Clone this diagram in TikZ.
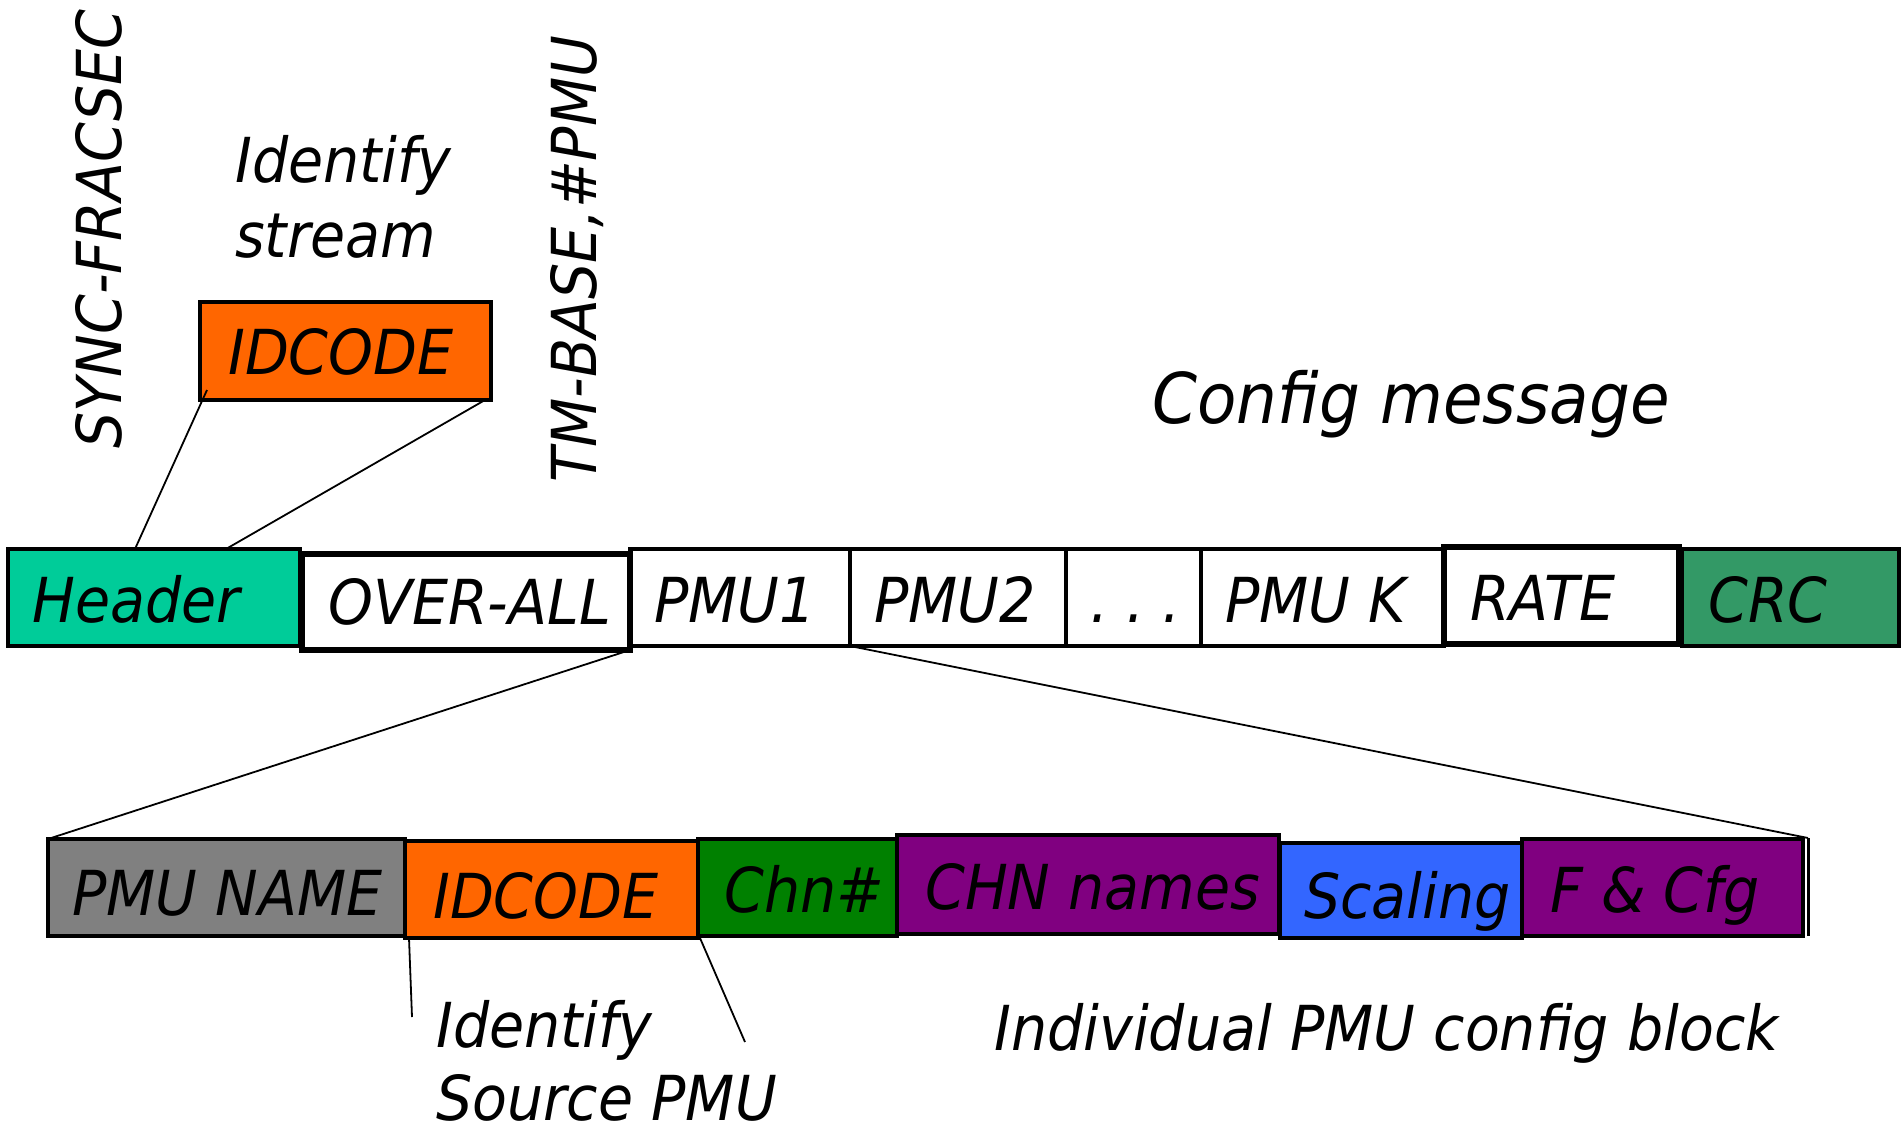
\documentclass[tikz,border=0pt]{standalone}
\usepackage{fontspec}
\setmainfont{DejaVu Sans}[FakeStretch=0.92]
\usetikzlibrary{calc}
\definecolor{hdrc}{HTML}{00CC99}
\definecolor{crcc}{HTML}{339966}
\definecolor{orng}{HTML}{FF6600}
\definecolor{gry}{HTML}{808080}
\definecolor{grn}{HTML}{008000}
\definecolor{purp}{HTML}{800080}
\definecolor{blu}{HTML}{3366FF}
\begin{document}
\begin{tikzpicture}[x=1pt,y=-1pt,
  box/.style={draw=black, line width=4pt, anchor=north west, inner sep=0pt, outer sep=0pt},
  thickbox/.style={box, line width=5.5pt},
  txt/.style={font=\fontsize{62}{75}\selectfont\itshape, inner sep=0pt, anchor=base west},
  conn/.style={line width=1.8pt}]
\useasboundingbox (0,0) rectangle (1901,1136);

% top bar
\node[box, fill=hdrc, minimum width=292pt, minimum height=97pt] (hdr) at (8,549) {};
\node[box, fill=white, minimum width=220pt, minimum height=97pt] (pmu1) at (630,549) {};
\node[box, fill=white, minimum width=216pt, minimum height=97pt] (pmu2) at (850,549) {};
\node[box, fill=white, minimum width=135pt, minimum height=97pt] (dots) at (1066,549) {};
\node[box, fill=white, minimum width=243pt, minimum height=97pt] (pmuk) at (1201,549) {};
\node[box, fill=crcc, minimum width=217pt, minimum height=97pt] (crc) at (1682,549) {};
\node[thickbox, fill=white, minimum width=328pt, minimum height=96pt] (over) at (302,554) {};
\node[thickbox, fill=white, minimum width=235pt, minimum height=97pt] (rate) at (1444,547) {};

\node[txt] (hdrt) at ($(hdr.south west)+(24,-24)$) {Header};
\node[txt] (overt) at ($(over.south west)+(26,-26)$) {OVER-ALL};
\node[txt] (pmu1t) at ($(pmu1.south west)+(24,-24)$) {PMU1};
\node[txt] (pmu2t) at ($(pmu2.south west)+(24,-24)$) {PMU2};
\node[txt] (dotst) at ($(dots.south west)+(24,-24)$) {.\ .\ .};
\node[txt] (pmukt) at ($(pmuk.south west)+(24,-24)$) {PMU K};
\node[txt] (ratet) at ($(rate.south west)+(26,-24)$) {RATE};
\node[txt] (crct) at ($(crc.south west)+(26,-24)$) {CRC};

% top IDCODE
\node[box, fill=orng, minimum width=291pt, minimum height=98pt] (idtop) at (200,302) {};
\node[txt] (idtopt) at ($(idtop.south west)+(28,-26)$) {IDCODE};
\draw[conn] ($(idtop.south west)+(7,-10)$) -- ($(hdr.north west)+(127,0)$);
\draw[conn] ($(idtop.south east)+(-6,0)$) -- ($(hdr.north west)+(218,0)$);

% labels top
\node[txt, rotate=90, anchor=base] (sync) at (121,229) {SYNC-FRACSEC};
\node[txt, rotate=90, anchor=base] (tmb) at (596,259) {TM-BASE,\#PMU};
\node[txt] (ids1) at (235,182) {Identify};
\node[txt] (ids2) at (235,257) {stream};
\node[txt, font=\fontsize{70}{84}\selectfont\itshape] (cfg) at (1152,423) {Config message};

% bottom row
\node[box, fill=gry, minimum width=357pt, minimum height=97pt] (pname) at (48,839) {};
\node[box, fill=orng, minimum width=293pt, minimum height=97pt] (idc) at (405,841) {};
\node[box, fill=grn, minimum width=199pt, minimum height=97pt] (chn) at (698,839) {};
\node[box, fill=purp, minimum width=382pt, minimum height=99pt] (chnn) at (897,835) {};
\node[box, fill=blu, minimum width=242pt, minimum height=95pt] (scal) at (1280,843) {};
\node[box, fill=purp, minimum width=281pt, minimum height=97pt] (fcfg) at (1522,839) {};
\coordinate (frtr) at (1808,838);
\coordinate (frbr) at (1808,936);
\draw[line width=3pt] (frtr) -- (frbr);

\node[txt] (pnamet) at ($(pname.south west)+(24,-21)$) {PMU NAME};
\node[txt] (idct) at ($(idc.south west)+(28,-20)$) {IDCODE};
\node[txt] (chnt) at ($(chn.south west)+(26,-24)$) {Chn\#};
\node[txt] (chnnt) at ($(chnn.south west)+(28,-25)$) {CHN names};
\node[txt] (scalt) at ($(scal.south west)+(24,-20)$) {Scaling};
\node[txt] (fcfgt) at ($(fcfg.south west)+(28,-24)$) {F \& Cfg};

% expansion connectors
\draw[conn] (over.south east) -- (pname.north west);
\draw[conn] (pmu2.south west) -- (frtr);

% bottom labels
\coordinate (a1) at (412,1017);
\coordinate (a2) at (745,1042);
\draw[conn] ($(idc.south west)+(4,0)$) -- (a1);
\draw[conn] ($(idc.south east)+(2,0)$) -- (a2);
\node[txt] (isp1) at (436,1047) {Identify};
\node[txt] (isp2) at (436,1120) {Source PMU};
\node[txt] (ipcb) at (994,1050) {Individual PMU config block};
\end{tikzpicture}
\end{document}
